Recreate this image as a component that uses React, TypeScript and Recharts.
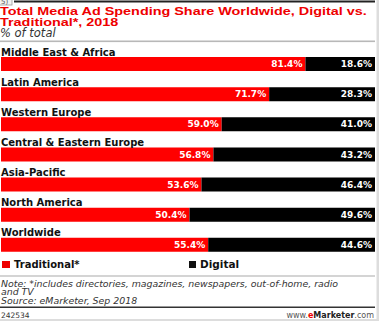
import React from 'react';
import { BarChart, Bar, XAxis, YAxis, LabelList } from 'recharts';

const regions = ['Middle East & Africa', 'Latin America', 'Western Europe', 'Central & Eastern Europe', 'Asia-Pacific', 'North America', 'Worldwide'];
const traditional = [81.4, 71.7, 59.0, 56.8, 53.6, 50.4, 55.4];
const digital = [18.6, 28.3, 41.0, 43.2, 46.4, 49.6, 44.6];

const data = regions.map((name, i) => ({ name, traditional: traditional[i], digital: digital[i] }));

const FONT = 'DejaVu Sans, sans-serif';
const ARIAL = 'Liberation Sans, Arial, sans-serif';

const ValueLabel = (props: any) => {
  const { x, y, width, height, value } = props;
  return (
    <text x={x + width - 3} y={y + height / 2 + 3.2} textAnchor="end" fill="#fff" fontFamily={FONT} fontWeight="bold" fontSize={9}>
      {Number(value).toFixed(1)}%
    </text>
  );
};

const NameLabel = (props: any) => {
  const { x, y, value } = props;
  return (
    <text x={x} y={y - 1.5} textAnchor="start" fill="#111" fontFamily={FONT} fontWeight="bold" fontSize={10}>
      {value}
    </text>
  );
};

export default function App() {
  return (
    <div style={{ position: 'absolute', left: 0, top: 0, width: 379, height: 321, background: '#fff', overflow: 'hidden' }}>
      <svg width={379} height={321} style={{ position: 'absolute', left: 0, top: 0 }}>
        <g transform="scale(1.22,1)">
          <text fontFamily={ARIAL} fontWeight="bold" fontSize={11.8} fill="#ee0000">
            <tspan x={0} y={15}>Total Media Ad Spending Share Worldwide, Digital vs.</tspan>
            <tspan x={0} y={26}>Traditional*, 2018</tspan>
          </text>
        </g>
        <rect x={14} y={0.5} width={361} height={2} fill="#222" />
        <rect x={-1} y={-3} width={13} height={8} fill="#f2f2f2" stroke="#999" strokeWidth={0.8} />
        <text x={1} y={4} fontFamily={FONT} fontSize={7} fill="#555">5)</text>
        <text x={0} y={37} fontFamily={FONT} fontStyle="italic" fontSize={11.5} fill="#333">% of total</text>
        <rect x={0} y={40.5} width={375} height={1.6} fill="#b8b8b8" />

        <rect x={2} y={261} width={8} height={7} fill="#ee0000" />
        <text x={14} y={268} fontFamily={FONT} fontWeight="bold" fontSize={10} fill="#111">Traditional*</text>
        <rect x={189} y={261} width={7} height={7} fill="#111" />
        <text x={200} y={268} fontFamily={FONT} fontWeight="bold" fontSize={10.5} fill="#111">Digital</text>

        <rect x={0} y={275.5} width={375} height={1} fill="#aaa" />
        <text fontFamily={FONT} fontStyle="italic" fontSize={9.4} fill="#333">
          <tspan x={1} y={287}>Note: *includes directories, magazines, newspapers, out-of-home, radio</tspan>
          <tspan x={1} y={295}>and TV</tspan>
          <tspan x={1} y={304}>Source: eMarketer, Sep 2018</tspan>
        </text>
        <rect x={0} y={306.5} width={375} height={1.5} fill="#333" />
        <text x={1} y={317.5} fontFamily={FONT} fontSize={7.5} fill="#333">242534</text>
        <text x={374} y={317.5} textAnchor="end" fontFamily={FONT} fontSize={8} fill="#555">
          www.<tspan fill="#ee0000" fontWeight="bold">e</tspan><tspan fill="#222" fontWeight="bold">Marketer</tspan>.com
        </text>
        <rect x={376.5} y={0} width={2.5} height={321} fill="#ddd" />
        <rect x={0} y={319} width={379} height={2} fill="#ddd" />
      </svg>
      <div style={{ position: 'absolute', left: 0, top: 0 }}>
        <BarChart width={379} height={262} data={data} layout="vertical" margin={{ top: 49, right: 4, bottom: 2, left: 1 }} barCategoryGap={0}>
          <XAxis type="number" domain={[0, 100]} hide />
          <YAxis type="category" dataKey="name" hide />
          <Bar dataKey="traditional" stackId="a" fill="#ff0000" barSize={14} isAnimationActive={false}>
            <LabelList dataKey="traditional" content={ValueLabel} />
            <LabelList dataKey="name" content={NameLabel} />
          </Bar>
          <Bar dataKey="digital" stackId="a" fill="#000" barSize={14} isAnimationActive={false}>
            <LabelList dataKey="digital" content={ValueLabel} />
          </Bar>
        </BarChart>
      </div>
    </div>
  );
}
